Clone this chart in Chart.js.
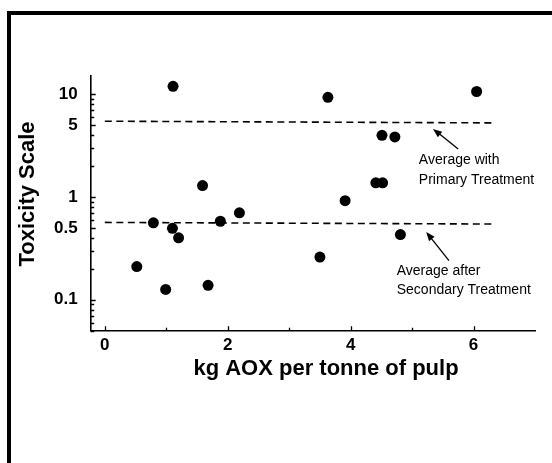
<!DOCTYPE html>
<html>
<head>
<meta charset="utf-8">
<script src="https://cdn.jsdelivr.net/npm/chart.js@4.4.1/dist/chart.umd.min.js"></script>
<style>
  html, body { margin: 0; padding: 0; background: #fff; }
  #wrap { position: relative; width: 552px; height: 463px; overflow: hidden; }
  #frame { position: absolute; left: 7px; top: 11px; right: -10px; bottom: -10px;
           border-left: 4px solid #000; border-top: 4px solid #000; pointer-events: none; }
  canvas { position: absolute; left: 0; top: 0; }
</style>
</head>
<body>
<div id="wrap">
  <canvas id="toxChart" width="552" height="463"></canvas>
  <div id="frame"></div>
</div>
<script>
// measured points: kg AOX per tonne vs toxicity
const aox      = [0.52, 0.79, 0.99, 1.10, 1.11, 1.20, 1.59, 1.68, 1.88, 2.19, 3.50, 3.63, 3.91, 4.41, 4.51, 4.52, 4.72, 4.81, 6.05];
const toxicity = [0.21, 0.56, 0.126, 0.495, 11.9, 0.40, 1.29, 0.138, 0.58, 0.70, 0.26, 9.3, 0.92, 1.37, 3.97, 1.37, 3.83, 0.43, 10.6];

// average lines (start / end)
const avgX         = [0, 6.3];
const avgPrimary   = [5.45, 5.25];
const avgSecondary = [0.565, 0.545];

// ticks
const xTicks = [0, 1, 2, 3, 4, 5, 6];
const xLabels = [0, 2, 4, 6];
const yTicks = [0.05, 0.06, 0.07, 0.08, 0.09, 0.1, 0.2, 0.3, 0.4, 0.5, 0.6, 0.7, 0.8, 0.9,
                1, 2, 3, 4, 5, 6, 7, 8, 9, 10];
const yLabels = [0.1, 0.5, 1, 5, 10];
const yMajor = [0.1, 1, 10];

const xTitle = 'kg AOX per tonne of pulp';
const yTitle = 'Toxicity Scale';

// annotation notes, anchored in data units
const notes = [
  { lines: ['Average with', 'Primary Treatment'], x: 5.11, y: [2.3, 1.45],
    arrowFrom: [5.75, 2.93], arrowTo: [5.34, 4.59] },
  { lines: ['Average after', 'Secondary Treatment'], x: 4.75, y: [0.189, 0.125],
    arrowFrom: [5.60, 0.24], arrowTo: [5.23, 0.457] }
];

const points = aox.map((v, i) => ({ x: v, y: toxicity[i] }));
const lineFrom = arr => avgX.map((v, i) => ({ x: v, y: arr[i] }));

const FONT = '"Liberation Sans", Arial, Helvetica, sans-serif';
Chart.defaults.color = '#000';
Chart.defaults.font.family = FONT;

// inward ticks, titles, notes and arrows
const extras = {
  id: 'extras',
  afterDraw(chart) {
    const ctx = chart.ctx;
    const xs = chart.scales.x, ys = chart.scales.y;
    const area = chart.chartArea;
    ctx.save();
    ctx.strokeStyle = '#000';
    ctx.lineWidth = 1.3;
    ctx.beginPath();
    yTicks.forEach(t => {
      const py = Math.round(ys.getPixelForValue(t)) + 0.5;
      const len = yMajor.includes(t) || yLabels.includes(t) ? 5 : 3.5;
      ctx.moveTo(area.left, py);
      ctx.lineTo(area.left + len, py);
    });
    xTicks.forEach(t => {
      const px = Math.round(xs.getPixelForValue(t)) + 0.5;
      const len = xLabels.includes(t) ? 4.5 : 3;
      ctx.moveTo(px, area.bottom);
      ctx.lineTo(px, area.bottom - len);
    });
    ctx.stroke();

    // axis titles
    ctx.fillStyle = '#000';
    ctx.font = 'bold 22px ' + FONT;
    ctx.textAlign = 'center';
    ctx.textBaseline = 'middle';
    ctx.fillText(xTitle, 326, 369);
    ctx.save();
    ctx.translate(28, 194);
    ctx.rotate(-Math.PI / 2);
    ctx.fillText(yTitle, 0, 0);
    ctx.restore();

    // notes
    ctx.font = '14px ' + FONT;
    ctx.textAlign = 'left';
    notes.forEach(n => {
      n.lines.forEach((txt, i) => {
        ctx.fillText(txt, xs.getPixelForValue(n.x), ys.getPixelForValue(n.y[i]));
      });
      const x1 = xs.getPixelForValue(n.arrowFrom[0]), y1 = ys.getPixelForValue(n.arrowFrom[1]);
      const x2 = xs.getPixelForValue(n.arrowTo[0]), y2 = ys.getPixelForValue(n.arrowTo[1]);
      const ang = Math.atan2(y2 - y1, x2 - x1);
      const head = 9, wid = 3.5;
      ctx.lineWidth = 1.3;
      ctx.beginPath();
      ctx.moveTo(x1, y1);
      ctx.lineTo(x2 - Math.cos(ang) * head * 0.8, y2 - Math.sin(ang) * head * 0.8);
      ctx.stroke();
      ctx.beginPath();
      ctx.moveTo(x2, y2);
      ctx.lineTo(x2 - Math.cos(ang) * head + Math.sin(ang) * wid, y2 - Math.sin(ang) * head - Math.cos(ang) * wid);
      ctx.lineTo(x2 - Math.cos(ang) * head - Math.sin(ang) * wid, y2 - Math.sin(ang) * head + Math.cos(ang) * wid);
      ctx.closePath();
      ctx.fill();
    });
    ctx.restore();
  }
};

const ctx = document.getElementById('toxChart').getContext('2d');
const toxChart = new Chart(ctx, {
  type: 'scatter',
  data: {
    datasets: [
      {
        label: 'Mills',
        data: points,
        backgroundColor: '#000',
        borderWidth: 0,
        pointRadius: 5.5,
        pointHoverRadius: 5.5
      },
      {
        label: 'Average with Primary Treatment',
        type: 'line',
        data: lineFrom(avgPrimary),
        borderColor: '#000',
        borderWidth: 1.6,
        borderDash: [7, 4.5],
        pointRadius: 0,
        fill: false
      },
      {
        label: 'Average after Secondary Treatment',
        type: 'line',
        data: lineFrom(avgSecondary),
        borderColor: '#000',
        borderWidth: 1.6,
        borderDash: [7, 4.5],
        pointRadius: 0,
        fill: false
      }
    ]
  },
  options: {
    responsive: false,
    animation: false,
    events: [],
    layout: { padding: { top: 76, right: 17, left: 0, bottom: 0 } },
    plugins: { legend: { display: false }, tooltip: { enabled: false } },
    scales: {
      x: {
        type: 'linear',
        min: -0.23,
        max: 7.0,
        afterBuildTicks: s => { s.ticks = xTicks.map(v => ({ value: v })); },
        afterFit: s => { s.height = 132.3; },
        grid: { display: false, drawTicks: false },
        border: { display: true, color: '#000', width: 1.6 },
        ticks: {
          padding: 4,
          autoSkip: false,
          maxRotation: 0,
          font: { size: 17, weight: 'bold' },
          callback: v => xLabels.includes(v) ? String(v) : ''
        }
      },
      y: {
        type: 'logarithmic',
        min: 0.05,
        max: 15,
        afterBuildTicks: s => { s.ticks = yTicks.map(v => ({ value: v })); },
        afterFit: s => { s.width = 90.7; },
        grid: { display: false, drawTicks: false },
        border: { display: true, color: '#000', width: 1.6 },
        ticks: {
          padding: 13,
          autoSkip: false,
          font: { size: 17, weight: 'bold' },
          callback: v => yLabels.includes(v) ? String(v) : ''
        }
      }
    }
  },
  plugins: [extras]
});
</script>
</body>
</html>
